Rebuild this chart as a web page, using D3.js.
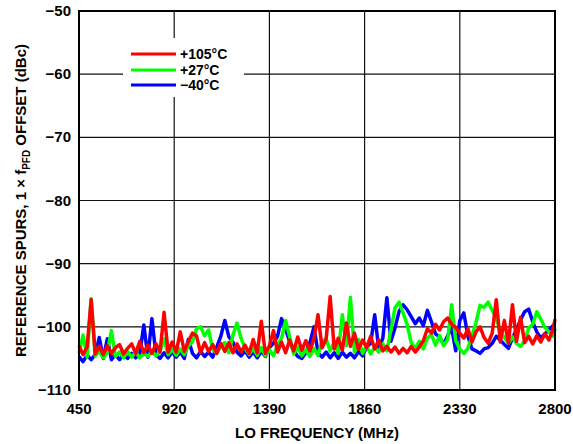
<!DOCTYPE html>
<html><head><meta charset="utf-8">
<script src="https://cdn.jsdelivr.net/npm/d3@7"></script>
<style>body{margin:0;background:#fff;}svg{display:block;font-family:"Liberation Sans",Arial,sans-serif;font-weight:bold;}</style>
</head><body><svg id="c" width="573" height="444"></svg>
<script>
const freq = [450,470,490,510,530,550,570,590,610,630,650,670,690,710,730,750,770,790,810,830,850,870,890,910,930,950,970,990,1010,1030,1050,1070,1090,1110,1130,1150,1170,1190,1210,1230,1250,1270,1290,1310,1330,1350,1370,1390,1410,1430,1450,1470,1490,1510,1530,1550,1570,1590,1610,1630,1650,1670,1690,1710,1730,1750,1770,1790,1810,1830,1850,1870,1890,1910,1930,1950,1970,1990,2010,2030,2050,2070,2090,2110,2130,2150,2170,2190,2210,2230,2250,2270,2290,2310,2330,2350,2370,2390,2410,2430,2450,2470,2490,2510,2530,2550,2570,2590,2610,2630,2650,2670,2690,2710,2730,2750,2770,2790,2800];

const red = [
-103.0,-104.4,-103.2,-95.7,-104.3,-103.1,-104.4,-103.0,-104.2,-103.3,
-102.8,-104.3,-103.4,-102.7,-104.2,-102.3,-104.1,-102.9,-104.2,-102.7,
-104,-97.7,-104,-102.4,-104,-100.8,-103.9,-102.3,-101,-101.4,
-104.1,-102.5,-103.9,-102.8,-104.2,-102.6,-103.9,-102.5,-104.1,-102.7,
-104,-102.9,-104.2,-102,-104.1,-99.1,-104.2,-103,-100.6,-104,
-102.4,-104.1,-102.1,-103.8,-101.6,-103.7,-102.2,-103.8,-101.9,-98.1,
-103.3,-102,-95.2,-103.5,-101.8,-103.7,-99.4,-103.1,-101,-103.6,
-102.1,-103.3,-101.5,-103.5,-102.1,-103.8,-103.1,-104,-103.2,-104.2,
-103.4,-104.1,-103.1,-104,-103.2,-102.2,-100.3,-101,-99.6,-100.5,
-99.2,-98.6,-99.6,-100.1,-101,-101.8,-100.3,-102.4,-100.8,-100,
-101.7,-102.6,-101,-95.7,-102.4,-99,-102.6,-96.5,-102.3,-98.5,
-102.5,-101.5,-102.7,-101.4,-102.4,-101.1,-102.1,-100.4,-98.8];

const green = [
-104.2,-101.3,-104.8,-95.5,-104.6,-103.9,-104.9,-104.1,-100.6,-104.7,
-104,-104.9,-103.9,-104.8,-104,-104.9,-104.2,-104.7,-103.8,-104.6,
-103.9,-101.9,-104.4,-103.6,-104.5,-103.5,-104.4,-103,-102.4,-100.3,
-100,-101.4,-100.5,-103.6,-104.2,-103.1,-102.5,-104.1,-101.3,-99.4,
-101.8,-103.4,-104.4,-103.4,-104.5,-103.3,-104.6,-103.6,-104.6,-102.9,
-101.8,-99,-101.6,-104.3,-103.2,-104.6,-103.6,-104.7,-103.4,-104.5,
-102.3,-101.9,-103.8,-102.4,-104.2,-98.1,-103,-95.3,-104,-102,
-104.2,-103,-104.3,-103.2,-104,-102.7,-103.8,-100.5,-97,-96.1,
-97.8,-99.6,-102.5,-103.4,-102.3,-103.5,-101.8,-101.2,-102.9,-101.4,
-103,-102,-96.5,-102.2,-103.5,-104.2,-103.4,-101.4,-99.3,-96.6,
-96.9,-96.1,-97.4,-98.6,-100.8,-101.7,-102.6,-101.6,-102.6,-103.1,
-102.2,-100.2,-99.6,-97.6,-98.8,-100.1,-100.8,-101.5,-100.3];

const blue = [
-104.7,-105.5,-104.5,-105.2,-104.4,-101.7,-105,-101.9,-105.2,-104.4,
-105.2,-104.3,-105,-104.2,-104.9,-104.3,-99.7,-104.8,-98.7,-104.4,
-105,-104.1,-104.9,-104,-104.8,-104,-105,-102,-104.2,-104.9,
-103.9,-104.7,-104,-104.8,-103.2,-101.5,-99,-101.6,-102.4,-104,
-104.6,-103.8,-104.8,-104,-104.9,-103.9,-104.7,-103.3,-102.6,-101.5,
-98.7,-100.4,-102.3,-103.8,-104.7,-105,-104.1,-102.5,-100,-104.1,
-104.8,-104,-104.9,-104.1,-105,-104,-104.8,-104.2,-104.9,-103.9,
-104.6,-103.2,-102.6,-98.1,-103.5,-101.8,-95.4,-102.3,-100.2,-97.6,
-96.5,-97.3,-98.4,-99.5,-98.6,-99.8,-97.4,-99.2,-101.1,-101.6,
-102.8,-101.4,-100.2,-103.8,-99,-97.8,-101.5,-103.5,-103.8,-104.2,
-103.5,-103.3,-102.6,-101.5,-102.1,-102.8,-103.4,-101.8,-100.4,-98.9,
-97.6,-97.2,-99.2,-100.8,-101.8,-101.1,-100.5,-99.8,-100.6];

const xTicks = [450,920,1390,1860,2330,2800];
const yTicks = [-50,-60,-70,-80,-90,-100,-110];
const seriesNames = ["+105°C","+27°C","\u221240°C"];
const seriesColors = ["#ff0000","#00ff00","#0000ff"];

const svg = d3.select("#c");
const L=79, R=555, T=11, B=390;
const x = d3.scaleLinear().domain([450,2800]).range([L,R]);
const y = d3.scaleLinear().domain([-110,-50]).range([B,T]);
const fmt = v => v<0 ? "\u2212"+Math.abs(v) : ""+v;

const g = svg.append("g");
g.selectAll(".gx").data(xTicks).join("line").attr("x1",d=>x(d)).attr("x2",d=>x(d)).attr("y1",T).attr("y2",B).attr("stroke","#111").attr("stroke-width",1.2);
g.selectAll(".gy").data(yTicks).join("line").attr("x1",L).attr("x2",R).attr("y1",d=>y(d)).attr("y2",d=>y(d)).attr("stroke","#111").attr("stroke-width",1.2);

const line = d3.line().x((d,i)=>x(freq[i])).y(d=>y(d));
[[blue,"#0000ff"],[green,"#00ff00"],[red,"#ff0000"]].forEach(([s,c])=>{
  svg.append("path").datum(s).attr("d",line).attr("fill","none").attr("stroke",c).attr("stroke-width",3.5).attr("stroke-linejoin","round");
});

svg.append("rect").attr("x",L).attr("y",T).attr("width",R-L).attr("height",B-T).attr("fill","none").attr("stroke","#000").attr("stroke-width",2);

svg.selectAll(".yt").data(yTicks).join("text").attr("x",L-8).attr("y",d=>y(d)+5).attr("text-anchor","end").attr("font-size",15).text(fmt);
svg.selectAll(".xt").data(xTicks).join("text").attr("x",d=>x(d)).attr("y",B+24).attr("text-anchor","middle").attr("font-size",15).text(d=>d);

svg.append("text").attr("x",(L+R)/2).attr("y",438).attr("text-anchor","middle").attr("font-size",15).text("LO FREQUENCY (MHz)");

const yt = svg.append("text").attr("transform",`translate(26,${(T+B)/2}) rotate(-90)`).attr("text-anchor","middle").attr("font-size",15);
yt.append("tspan").text("REFERENCE SPURS, 1 \u00d7 f");
yt.append("tspan").attr("font-size",10).attr("dy",4).text("PFD");
yt.append("tspan").attr("dy",-4).text(" OFFSET (dBc)");

svg.append("rect").attr("x",123).attr("y",38).attr("width",121).attr("height",59).attr("fill","#fff");
const ly = [54,70,85];
seriesNames.forEach((n,i)=>{
  svg.append("line").attr("x1",131).attr("x2",176).attr("y1",ly[i]).attr("y2",ly[i]).attr("stroke",seriesColors[i]).attr("stroke-width",3);
  svg.append("text").attr("x",180).attr("y",ly[i]+5).attr("font-size",14).text(n);
});
</script></body></html>
